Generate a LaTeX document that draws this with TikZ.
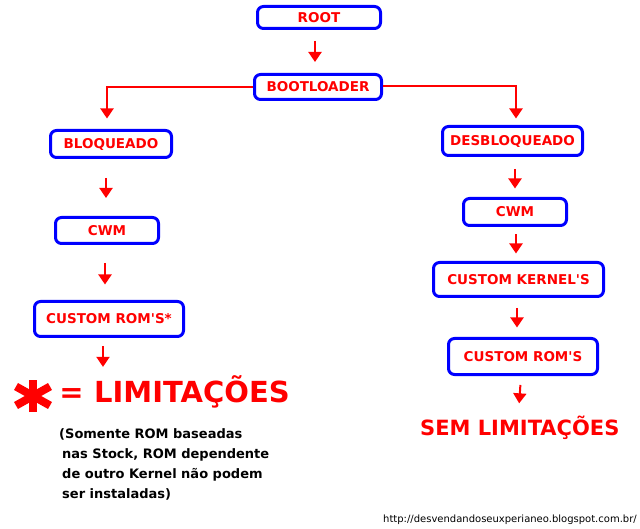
\documentclass[tikz,border=0pt]{standalone}
\usepackage{fontspec}
\setmainfont{DejaVu Sans}[Ligatures=TeXOff]
\usetikzlibrary{arrows.meta,calc}
\definecolor{bblue}{RGB}{0,0,255}
\definecolor{rred}{RGB}{255,0,0}
\tikzset{
  box/.style={draw=bblue, line width=3pt, rounded corners=6pt, text=rred,
    font=\bfseries\fontsize{13.5}{15}\selectfont, inner sep=0pt, anchor=center},
  arr/.style={draw=rred, line width=2pt, -{Triangle[width=13pt,length=10pt]}},
  big/.style={text=rred, font=\bfseries\fontsize{29}{32}\selectfont, inner sep=0pt},
}
\begin{document}
\begin{tikzpicture}[x=1pt,y=-1pt]
\useasboundingbox (0,0) rectangle (640,529);
% boxes
\node[box, minimum width=123pt, minimum height=22pt] (root) at (319,17.5) {ROOT};
\node[box, minimum width=127pt, minimum height=25pt] (boot) at (318,87) {BOOTLOADER};
\node[box, minimum width=121pt, minimum height=27pt] (bloq) at (111,144) {BLOQUEADO};
\node[box, minimum width=103pt, minimum height=26pt] (cwml) at (107,230.5) {CWM};
\node[box, minimum width=149pt, minimum height=35pt] (croml) at (109,319) {CUSTOM ROM'S*};
\node[box, minimum width=140pt, minimum height=29pt] (desb) at (512.5,141) {DESBLOQUEADO};
\node[box, minimum width=103pt, minimum height=27pt] (cwmr) at (515,212) {CWM};
\node[box, minimum width=170pt, minimum height=34pt] (ck) at (518.5,279.5) {CUSTOM KERNEL'S};
\node[box, minimum width=149pt, minimum height=36pt] (cromr) at (523,356.5) {CUSTOM ROM'S};
% texts
\node[big, anchor=base west] (lim) at (94,402) {LIMITAÇÕES};
\node[big, anchor=base] (eq) at (71.5,402) {=};
\node[text=rred, font=\bfseries\fontsize{21}{24}\selectfont, inner sep=0pt, anchor=base west] (sem) at (420,435) {SEM LIMITAÇÕES};
\node[font=\bfseries\fontsize{13}{20.3}\selectfont, inner sep=0pt, anchor=north west, align=left] (note) at (59,428)
  {(Somente ROM baseadas\\ \hspace{3pt}nas Stock, ROM dependente\\ \hspace{3pt}de outro Kernel não podem\\ \hspace{3pt}ser instaladas)};
\node[font=\fontsize{10}{11}\selectfont, inner sep=0pt, anchor=base west] (url) at (383,522) {http://desvendandoseuxperianeo.blogspot.com.br/};
% asterisk
\coordinate (ast) at (33,396);
\draw[rred, line width=8pt] ([yshift=-16pt]ast) -- ([yshift=16pt]ast);
\draw[rred, line width=8pt] ($(ast)+(-17,-9.5)$) -- ($(ast)+(17,9.5)$);
\draw[rred, line width=8pt] ($(ast)+(-17,9.5)$) -- ($(ast)+(17,-9.5)$);
% arrows
\draw[arr, shorten <=11pt, shorten >=11pt] ([xshift=-4pt]root.south) -- ([xshift=-3pt]boot.north);
\draw[arr, shorten >=10.5pt] (boot.west) -| ([xshift=-4pt]bloq.north);
\draw[arr, shorten >=6.5pt] ([yshift=1pt]boot.east) -| ([xshift=3.5pt]desb.north);
\draw[arr, shorten <=19pt, shorten >=18pt] ([xshift=-5pt]bloq.south) -- ([xshift=-1pt]cwml.north);
\draw[arr, shorten <=18pt, shorten >=15.5pt] ([xshift=-2pt]cwml.south) -- ([xshift=-4pt]croml.north);
\draw[arr, shorten <=8.5pt, shorten >=8pt] ([xshift=-6pt]croml.south) -- ([xshift=9pt]lim.north west);
\draw[arr, shorten <=12pt, shorten >=8.5pt] ([xshift=2.5pt]desb.south) -- (cwmr.north);
\draw[arr, shorten <=7.5pt, shorten >=7.5pt] ([xshift=1pt]cwmr.south) -- ([xshift=-2.5pt]ck.north);
\draw[arr, shorten <=10pt, shorten >=9.5pt] ([xshift=-1.5pt]ck.south) -- ([xshift=-6pt]cromr.north);
\draw[arr, shorten <=9pt, shorten >=12pt] ([xshift=-2pt]cromr.south) -- ([xshift=-1.5pt]sem.north);
\end{tikzpicture}
\end{document}
